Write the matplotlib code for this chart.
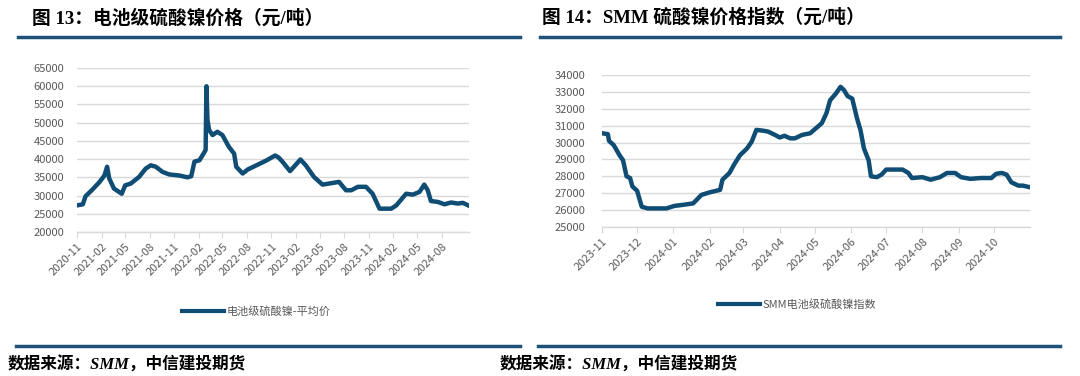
import numpy as np
import pandas as pd
import matplotlib
matplotlib.use("Agg")
import matplotlib.pyplot as plt
import matplotlib.dates as mdates
from matplotlib.lines import Line2D

plt.rcParams['font.family'] = ['Noto Sans CJK SC', 'DejaVu Sans']

# 图13: 电池级硫酸镍-平均价
left_dates = ["2020-11-01", "2020-11-23", "2020-12-03", "2020-12-27", "2021-01-25", "2021-02-12",
              "2021-02-22", "2021-03-02", "2021-03-20", "2021-04-18", "2021-05-01", "2021-05-22",
              "2021-06-22", "2021-07-17", "2021-08-05", "2021-08-24", "2021-09-18", "2021-10-13",
              "2021-11-20", "2021-12-21", "2022-01-04", "2022-01-16", "2022-02-04", "2022-02-19",
              "2022-02-27", "2022-03-02", "2022-03-06", "2022-03-12", "2022-03-25", "2022-04-12",
              "2022-05-01", "2022-05-25", "2022-06-14", "2022-06-22", "2022-07-16", "2022-08-04",
              "2022-09-20", "2022-10-15", "2022-11-15", "2022-11-28", "2022-12-13", "2023-01-10",
              "2023-02-18", "2023-03-10", "2023-04-10", "2023-05-12", "2023-06-06", "2023-07-13",
              "2023-08-08", "2023-08-28", "2023-09-22", "2023-10-22", "2023-11-16", "2023-12-12",
              "2024-01-25", "2024-02-13", "2024-03-21", "2024-04-15", "2024-05-10", "2024-05-28",
              "2024-06-10", "2024-06-22", "2024-07-18", "2024-08-12", "2024-09-06", "2024-10-01",
              "2024-10-20", "2024-11-12"]
left_values = [27300, 27600, 29800, 31500, 33750, 35500,
               37900, 34700, 31900, 30500, 32800, 33300,
               35100, 37400, 38300, 37900, 36500, 35800,
               35500, 35000, 35300, 39300, 39700, 41500,
               42500, 60000, 50700, 48000, 46600, 47500,
               46600, 43400, 41500, 37900, 36050, 37150,
               38800, 39700, 41000, 40450, 39250, 36700,
               39900, 38300, 35100, 33000, 33300, 33750,
               31450, 31450, 32400, 32400, 30500, 26400,
               26400, 27300, 30500, 30250, 31000, 33000,
               31450, 28500, 28250, 27600, 28100, 27800,
               28000, 27200]
left_ticks = pd.date_range("2020-11-01", "2024-08-01", freq="3MS")

# 图14: SMM电池级硫酸镍指数
right_dates = ["2023-11-01", "2023-11-06", "2023-11-07", "2023-11-11", "2023-11-16", "2023-11-19",
               "2023-11-22", "2023-11-25", "2023-11-27", "2023-12-01", "2023-12-05", "2023-12-10",
               "2023-12-26", "2024-01-02", "2024-01-08", "2024-01-18", "2024-01-25", "2024-02-01",
               "2024-02-10", "2024-02-12", "2024-02-18", "2024-02-22", "2024-02-27", "2024-03-04",
               "2024-03-08", "2024-03-12", "2024-03-18", "2024-03-22", "2024-03-28", "2024-04-01",
               "2024-04-05", "2024-04-10", "2024-04-14", "2024-04-20", "2024-04-27", "2024-05-02",
               "2024-05-07", "2024-05-11", "2024-05-14", "2024-05-19", "2024-05-23", "2024-05-26",
               "2024-05-29", "2024-06-02", "2024-06-06", "2024-06-09", "2024-06-12", "2024-06-16",
               "2024-06-18", "2024-06-23", "2024-06-27", "2024-07-01", "2024-07-08", "2024-07-15",
               "2024-07-20", "2024-07-23", "2024-08-01", "2024-08-08", "2024-08-16", "2024-08-22",
               "2024-08-29", "2024-09-03", "2024-09-11", "2024-09-20", "2024-09-29", "2024-10-03",
               "2024-10-08", "2024-10-12", "2024-10-16", "2024-10-22", "2024-10-26", "2024-11-01"]
right_values = [30550, 30500, 30100, 29850, 29250, 28950,
                28000, 27900, 27400, 27150, 26200, 26100,
                26100, 26250, 26300, 26400, 26900, 27050,
                27200, 27800, 28200, 28700, 29250, 29650,
                30050, 30750, 30700, 30650, 30450, 30300,
                30400, 30250, 30250, 30450, 30550, 30850,
                31150, 31750, 32500, 32900, 33300, 33100,
                32750, 32600, 31450, 30750, 29650, 28950,
                28000, 27950, 28100, 28400, 28400, 28400,
                28200, 27900, 27950, 27800, 27950, 28200,
                28200, 27950, 27850, 27900, 27900, 28150,
                28200, 28100, 27650, 27450, 27450, 27350]
right_ticks = pd.date_range("2023-11-01", "2024-10-01", freq="MS")

left_title = "图 13：电池级硫酸镍价格（元/吨）"
right_title = "图 14：SMM 硫酸镍价格指数（元/吨）"
left_label = "电池级硫酸镍-平均价"
right_label = "SMM电池级硫酸镍指数"
source = "数据来源：SMM，中信建投期货"

line_color = "#0f4d74"
rule_color = "#1f5279"
grid_color = "#d9d9d9"
tick_color = "#595959"

W, H = 1080, 376
fig = plt.figure(figsize=(W / 100, H / 100), dpi=100)


def fx(px):
    return px / W


def fy(py):
    return 1 - py / H


def style_axes(ax, ypad):
    for s in ["top", "right", "left"]:
        ax.spines[s].set_visible(False)
    ax.spines["bottom"].set_color(grid_color)
    ax.spines["bottom"].set_linewidth(1)
    ax.grid(axis="y", color=grid_color, lw=1)
    ax.set_axisbelow(True)
    ax.tick_params(axis="y", length=0, pad=ypad, labelsize=8, labelcolor=tick_color)
    ax.tick_params(axis="x", length=4, color=grid_color, pad=3, labelsize=8, labelcolor=tick_color)
    for lab in ax.get_xticklabels():
        lab.set_rotation(45)
        lab.set_ha("right")
        lab.set_rotation_mode("anchor")


# left chart
ax1 = fig.add_axes([fx(77), fy(232), fx(469 - 77), (232 - 68) / H])
ax1.plot(pd.to_datetime(left_dates), left_values, color=line_color, lw=3.2, solid_joinstyle="round")
ax1.set_ylim(20000, 65000)
ax1.set_yticks(np.arange(20000, 65001, 5000))
ax1.set_xlim(pd.Timestamp("2020-11-01"), pd.Timestamp("2024-11-12"))
ax1.set_xticks(left_ticks)
ax1.xaxis.set_major_formatter(mdates.DateFormatter("%Y-%m"))
style_axes(ax1, 9)

# right chart
ax2 = fig.add_axes([fx(602), fy(227), fx(1030 - 602), (227 - 75) / H])
ax2.plot(pd.to_datetime(right_dates), right_values, color=line_color, lw=3.2, solid_joinstyle="round")
ax2.set_ylim(25000, 34000)
ax2.set_yticks(np.arange(25000, 34001, 1000))
ax2.set_xlim(pd.Timestamp("2023-11-01"), pd.Timestamp("2024-11-01"))
ax2.set_xticks(right_ticks)
ax2.xaxis.set_major_formatter(mdates.DateFormatter("%Y-%m"))
style_axes(ax2, 12)

# legends
h = Line2D([], [], color=line_color, lw=3)
fig.legend([h], [left_label], loc="center", bbox_to_anchor=(fx(256), fy(311)), frameon=False,
           fontsize=8, labelcolor=tick_color, handlelength=3.8, handletextpad=0.2)
fig.legend([h], [right_label], loc="center", bbox_to_anchor=(fx(797), fy(304)), frameon=False,
           fontsize=8, labelcolor=tick_color, handlelength=3.8, handletextpad=0.2)

# titles, rules and source notes
title_font = ['Liberation Serif', 'Noto Sans CJK SC']
fig.text(fx(32), fy(18), left_title, family=title_font, fontsize=13.5, fontweight="bold", va="center")
fig.text(fx(542), fy(18), right_title, family=title_font, fontsize=13.5, fontweight="bold", va="center")

for x0, x1 in [(18, 520), (540, 1060)]:
    fig.add_artist(Line2D([fx(x0), fx(x1)], [fy(37), fy(37)], color=rule_color, lw=2.5))
    fig.add_artist(Line2D([fx(x0 - 2), fx(x1)], [fy(346), fy(346)], color=rule_color, lw=2.5))

fig.text(fx(8), fy(365), source, family=title_font, fontsize=12, fontweight="bold",
         style="italic", va="center")
fig.text(fx(500), fy(365), source, family=title_font, fontsize=12, fontweight="bold",
         style="italic", va="center")

fig.savefig("out.png", dpi=100)
